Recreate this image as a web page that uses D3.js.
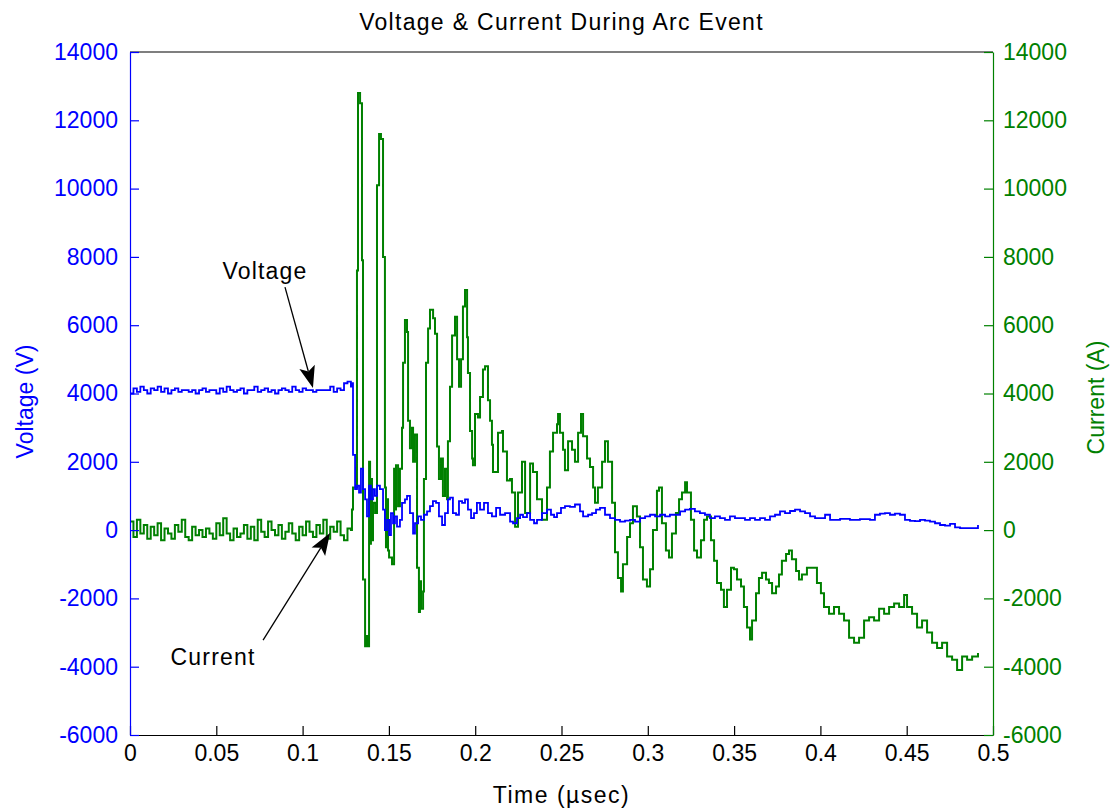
<!DOCTYPE html>
<html>
<head>
<meta charset="utf-8">
<script src="https://cdn.jsdelivr.net/npm/d3@7"></script>
<style>
  html, body { margin: 0; padding: 0; background: #fff; }
  svg text { font-family: "Liberation Sans", Arial, sans-serif; }
</style>
</head>
<body>
<svg id="chart" width="1113" height="810"></svg>
<script>
// ---------------- DATA ----------------
const chartTitle = "Voltage & Current During Arc Event";
const xLabel = "Time (\u00b5sec)";
const yLeftLabel = "Voltage (V)";
const yRightLabel = "Current (A)";
const xTicks = [0, 0.05, 0.1, 0.15, 0.2, 0.25, 0.3, 0.35, 0.4, 0.45, 0.5];
const yTicks = [-6000, -4000, -2000, 0, 2000, 4000, 6000, 8000, 10000, 12000, 14000];
const xDomain = [0, 0.5];
const yDomain = [-6000, 14000];

// Voltage trace [time (usec), volts]
const voltagePoints = [
  [0.000,4000],[0.002,4150],[0.004,4050],[0.006,4200],[0.008,4100],[0.010,4000],[0.012,4150],[0.014,4100],
  [0.016,4200],[0.018,4050],[0.020,4150],[0.022,4000],[0.024,4100],[0.026,4150],[0.028,4050],[0.030,4100],
  [0.032,4100],[0.034,4050],[0.036,4100],[0.038,4000],[0.040,4100],[0.042,4150],[0.044,4050],[0.046,4100],
  [0.048,4100],[0.050,4000],[0.052,4150],[0.054,4050],[0.056,4200],[0.058,4100],[0.060,4050],[0.062,4100],
  [0.064,4150],[0.066,4000],[0.068,4100],[0.070,4100],[0.072,4200],[0.074,4050],[0.076,4100],[0.078,4150],
  [0.080,4050],[0.082,4100],[0.084,4000],[0.086,4100],[0.088,4150],[0.090,4100],[0.092,4050],[0.094,4200],
  [0.096,4100],[0.098,4050],[0.100,4150],[0.102,4100],[0.104,4100],[0.106,4050],[0.108,4100],[0.110,4100],
  [0.112,4100],[0.114,4100],[0.116,4200],[0.118,4050],[0.120,4150],[0.122,4100],[0.124,4300],[0.126,4350],
  [0.1280,4200],[0.1286,4300],[0.1292,2200],[0.1304,1200],[0.1315,1300],[0.1327,1100],[0.1338,1800],
  [0.1350,1200],[0.1362,900],[0.1373,400],[0.1385,1300],[0.1396,900],[0.1408,1200],[0.1419,1000],
  [0.1431,1300],[0.1448,1200],[0.1466,600],[0.1477,0],[0.1489,300],[0.1501,-150],[0.1512,500],
  [0.1524,200],[0.1535,400],[0.1547,100],[0.1564,300],[0.1576,800],[0.1593,900],[0.1605,1000],
  [0.1622,500],[0.1640,-100],[0.1651,200],[0.1669,400],[0.1686,300],[0.1703,450],[0.1721,550],
  [0.1738,700],[0.1755,850],[0.1773,800],[0.1790,400],[0.1808,150],[0.1825,500],[0.1842,900],
  [0.1854,950],[0.1871,500],[0.1889,450],[0.1906,850],[0.1924,800],[0.1941,900],[0.1958,600],
  [0.1976,350],[0.1993,500],[0.2010,800],[0.2028,600],[0.2051,800],[0.2074,500],[0.2097,400],
  [0.2121,650],[0.2144,450],[0.2173,500],[0.2202,250],[0.2219,200],[0.2242,350],[0.2260,450],
  [0.2277,380],[0.2300,500],[0.2318,300],[0.2341,200],[0.2358,300],[0.2387,500],[0.2416,600],
  [0.2439,450],[0.2457,380],[0.2474,500],[0.2497,650],[0.2520,700],[0.2549,680],[0.2578,750],
  [0.2607,550],[0.2625,400],[0.2654,450],[0.2677,500],[0.2700,600],[0.2723,650],[0.2752,450],
  [0.2781,350],[0.2810,300],[0.2839,250],[0.2868,280],[0.2897,300],[0.2926,250],[0.2955,350],
  [0.2984,400],[0.3013,450],[0.3042,400],[0.3071,450],[0.3100,400],[0.3128,450],[0.3158,450],
  [0.3187,550],[0.3216,600],[0.3244,620],[0.3273,550],[0.3302,500],[0.3331,450],[0.3360,350],
  [0.3389,400],[0.3418,350],[0.3447,300],[0.3476,400],[0.3505,350],[0.3534,350],[0.3563,300],
  [0.3592,350],[0.3621,300],[0.3650,350],[0.3679,300],[0.3708,400],[0.3737,450],[0.3766,550],
  [0.3795,500],[0.3824,560],[0.3853,600],[0.3882,550],[0.3911,500],[0.3940,400],[0.3969,350],
  [0.3998,350],[0.4027,450],[0.4056,300],[0.4114,330],[0.4171,300],[0.4229,320],[0.4287,300],
  [0.4316,450],[0.4345,480],[0.4374,500],[0.4403,450],[0.4432,480],[0.4461,450],[0.4490,300],
  [0.4519,270],[0.4548,260],[0.4577,300],[0.4606,280],[0.4635,250],[0.4664,200],[0.4693,150],
  [0.4722,130],[0.4751,180],[0.4780,80],[0.4809,60],[0.4838,60],[0.4867,60],[0.4896,60],[0.4913,150]
];

// Current trace [time (usec), amps]
const currentPoints = [
  [0.000,250],[0.002,-200],[0.004,300],[0.006,-100],[0.008,150],[0.010,-250],[0.012,100],[0.014,-150],
  [0.016,200],[0.018,-300],[0.020,50],[0.022,-100],[0.024,-250],[0.026,150],[0.028,-50],[0.030,300],
  [0.032,-200],[0.034,-300],[0.036,100],[0.038,-150],[0.040,0],[0.042,-200],[0.044,50],[0.046,-100],
  [0.048,-250],[0.050,200],[0.052,-150],[0.054,350],[0.056,-100],[0.058,-300],[0.060,50],[0.062,-200],
  [0.064,-100],[0.066,150],[0.068,-250],[0.070,100],[0.072,-300],[0.074,300],[0.076,-50],[0.078,-200],
  [0.080,250],[0.082,0],[0.084,-150],[0.086,150],[0.088,-250],[0.090,-50],[0.092,200],[0.094,-100],
  [0.096,-300],[0.098,100],[0.100,-150],[0.102,250],[0.104,-50],[0.106,-200],[0.108,150],[0.110,-100],
  [0.112,300],[0.114,-250],[0.116,100],[0.118,-50],[0.120,250],[0.122,-150],[0.124,-300],[0.126,50],
  [0.1280,0],[0.1286,600],[0.1292,1250],[0.1315,7600],[0.1321,12800],[0.1333,12500],[0.1344,7900],
  [0.1350,-1450],[0.1362,-3400],[0.1373,-3100],[0.1379,-3400],[0.1385,2000],[0.1391,-400],[0.1396,1500],
  [0.1402,-300],[0.1408,800],[0.1420,500],[0.1431,10100],[0.1443,11600],[0.1454,11450],[0.1466,8000],
  [0.1477,1250],[0.1483,-500],[0.1489,900],[0.1495,-600],[0.1501,-800],[0.1506,-800],[0.1518,-1000],
  [0.1530,1800],[0.1535,600],[0.1541,1900],[0.1553,700],[0.1564,1800],[0.1576,3000],[0.1582,4900],
  [0.1593,6150],[0.1605,5800],[0.1611,3200],[0.1622,2400],[0.1634,3000],[0.1640,2000],[0.1651,2800],
  [0.1663,-1100],[0.1674,-2400],[0.1680,-1500],[0.1686,-2300],[0.1698,-1800],[0.1703,1500],[0.1715,4900],
  [0.1727,5900],[0.1738,6450],[0.1756,6200],[0.1767,5750],[0.1779,2450],[0.1790,1500],[0.1802,2100],
  [0.1813,1000],[0.1825,1800],[0.1837,900],[0.1842,2600],[0.1854,4200],[0.1866,5700],[0.1883,6250],
  [0.1895,5000],[0.1906,4200],[0.1918,5000],[0.1929,6550],[0.1941,7030],[0.1953,5650],[0.1958,4600],
  [0.1970,2900],[0.1982,2100],[0.1987,1900],[0.1999,3400],[0.2016,3300],[0.2028,3900],[0.2045,4700],
  [0.2057,4800],[0.2074,3800],[0.2086,3200],[0.2097,2500],[0.2103,1700],[0.2115,1700],[0.2132,2850],
  [0.2155,2900],[0.2161,2300],[0.2184,1450],[0.2202,1500],[0.2213,1100],[0.2231,100],[0.2248,1100],
  [0.2271,2000],[0.2289,500],[0.2318,1950],[0.2335,1700],[0.2358,900],[0.2387,300],[0.2416,1250],
  [0.2433,2300],[0.2451,2850],[0.2474,3100],[0.2480,3400],[0.2491,2850],[0.2509,2350],[0.2520,1750],
  [0.2538,2600],[0.2561,2350],[0.2578,2000],[0.2596,2850],[0.2613,3400],[0.2625,2750],[0.2648,2100],
  [0.2665,1850],[0.2683,1250],[0.2694,800],[0.2711,1250],[0.2735,2000],[0.2752,2600],[0.2769,2000],
  [0.2793,800],[0.2810,-650],[0.2827,-1400],[0.2845,-1800],[0.2856,-1000],[0.2880,-200],[0.2897,200],
  [0.2914,700],[0.2937,400],[0.2955,-500],[0.2972,-1450],[0.2995,-1650],[0.3013,-1150],[0.3030,0],
  [0.3053,1150],[0.3065,1250],[0.3082,200],[0.3105,-600],[0.3123,-800],[0.3140,-100],[0.3163,500],
  [0.3181,900],[0.3198,1100],[0.3216,1400],[0.3227,1100],[0.3250,300],[0.3268,-600],[0.3285,-800],
  [0.3308,-300],[0.3326,300],[0.3343,400],[0.3366,-300],[0.3384,-900],[0.3401,-1550],[0.3424,-1750],
  [0.3441,-2250],[0.3459,-1750],[0.3482,-1100],[0.3499,-1150],[0.3517,-1450],[0.3540,-1650],
  [0.3557,-2250],[0.3575,-2850],[0.3592,-3200],[0.3604,-2650],[0.3627,-1850],[0.3644,-1400],
  [0.3662,-1250],[0.3685,-1450],[0.3702,-1550],[0.3720,-1850],[0.3743,-1650],[0.3760,-1300],
  [0.3777,-900],[0.3801,-700],[0.3818,-600],[0.3835,-850],[0.3859,-1200],[0.3876,-1450],[0.3893,-1300],
  [0.3922,-1100],[0.3951,-1100],[0.3980,-1550],[0.4003,-1850],[0.4021,-2250],[0.4050,-2450],
  [0.4079,-2250],[0.4108,-2450],[0.4137,-2650],[0.4166,-3150],[0.4195,-3300],[0.4224,-3150],
  [0.4253,-2650],[0.4282,-2550],[0.4311,-2650],[0.4340,-2300],[0.4369,-2450],[0.4398,-2250],
  [0.4427,-2150],[0.4456,-2250],[0.4485,-1900],[0.4502,-2250],[0.4531,-2450],[0.4560,-2850],
  [0.4589,-2650],[0.4618,-3000],[0.4647,-3300],[0.4676,-3450],[0.4705,-3300],[0.4734,-3700],
  [0.4763,-3800],[0.4792,-4100],[0.4821,-3700],[0.4850,-3800],[0.4879,-3700],[0.4913,-3600]
];

// Annotation texts: [text x, text baseline y, arrow tail x, tail y, arrow head x, head y] in data units
const annotationLabels = ["Voltage", "Current"];
const annotationAnchors = [
  [0.0782, 7350, 0.0898, 7115, 0.1060, 4158],
  [0.0481, -3953, 0.0771, -3221, 0.1159, -88]
];

// ---------------- CHART ----------------
const W = 1113, H = 810;
const margin = {left: 130, right: 120, top: 52, bottom: 75};
const pw = W - margin.left - margin.right;
const ph = H - margin.top - margin.bottom;
const blue = "#0000ff", green = "#008000";
const fs = 23;

const svg = d3.select("#chart");
const g = svg.append("g").attr("transform", `translate(${margin.left},${margin.top})`);

const x = d3.scaleLinear().domain(xDomain).range([0, pw]);
const yL = d3.scaleLinear().domain(yDomain).range([ph, 0]);
const yR = d3.scaleLinear().domain(yDomain).range([ph, 0]);

g.append("defs").append("clipPath").attr("id", "clip")
  .append("rect").attr("x", 0).attr("y", 0).attr("width", pw).attr("height", ph);

// Data lines
const lineV = d3.line().x(d => x(d[0])).y(d => yL(d[1])).curve(d3.curveStepAfter);
const lineC = d3.line().x(d => x(d[0])).y(d => yR(d[1])).curve(d3.curveStepAfter);

const plot = g.append("g").attr("clip-path", "url(#clip)");
plot.append("path").datum(currentPoints).attr("d", lineC)
  .attr("fill", "none").attr("stroke", green).attr("stroke-width", 2);
plot.append("path").datum(voltagePoints).attr("d", lineV)
  .attr("fill", "none").attr("stroke", blue).attr("stroke-width", 1.8);

// Axes
function styleAxis(sel, color) {
  sel.selectAll("path.domain").attr("stroke", color).attr("stroke-width", 1.2);
  sel.selectAll(".tick line").attr("stroke", color).attr("stroke-width", 1.2);
  sel.selectAll(".tick text").attr("fill", color)
    .style("font-family", '"Liberation Sans", Arial, sans-serif').style("font-size", fs + "px");
}

const xAxis = g.append("g").attr("transform", `translate(0,${ph})`)
  .call(d3.axisBottom(x).tickValues(xTicks).tickFormat(d => String(d)).tickSizeInner(-9).tickSizeOuter(0).tickPadding(22));
styleAxis(xAxis, "#000");
xAxis.selectAll(".tick text").attr("dy", "0.71em").attr("y", 10);

// top border
g.append("line").attr("x1", 0).attr("x2", pw).attr("y1", 0).attr("y2", 0)
  .attr("stroke", "#000").attr("stroke-width", 1.2);

const yAxisL = g.append("g")
  .call(d3.axisLeft(yL).tickValues(yTicks).tickFormat(d => String(d)).tickSizeInner(-9).tickSizeOuter(0));
styleAxis(yAxisL, blue);
yAxisL.selectAll(".tick text").attr("x", -12);

const yAxisR = g.append("g").attr("transform", `translate(${pw},0)`)
  .call(d3.axisRight(yR).tickValues(yTicks).tickFormat(d => String(d)).tickSizeInner(-9).tickSizeOuter(0));
styleAxis(yAxisR, green);
yAxisR.selectAll(".tick text").attr("x", 10);

// Titles / labels
svg.append("text").attr("x", margin.left + pw / 2).attr("y", 30)
  .attr("text-anchor", "middle").attr("fill", "#000").style("font-size", fs + "px")
  .style("letter-spacing", "1.3px").text(chartTitle);

svg.append("text").attr("x", margin.left + pw / 2).attr("y", 803)
  .attr("text-anchor", "middle").attr("fill", "#000").style("font-size", fs + "px")
  .style("letter-spacing", "1.5px").text(xLabel);

svg.append("text").attr("transform", `translate(33,${margin.top + ph / 2 + 8}) rotate(-90)`)
  .attr("text-anchor", "middle").attr("fill", blue).style("font-size", fs + "px")
  .text(yLeftLabel);

svg.append("text").attr("transform", `translate(1104,${margin.top + ph / 2 + 4}) rotate(-90)`)
  .attr("text-anchor", "middle").attr("fill", green).style("font-size", fs + "px")
  .text(yRightLabel);

// Annotations with arrows
annotationAnchors.forEach((a, i) => {
  const tx = x(a[0]), ty = yL(a[1]);
  g.append("text").attr("x", tx).attr("y", ty).attr("text-anchor", "middle")
    .attr("fill", "#000").style("font-size", fs + "px").style("letter-spacing", "1.2px")
    .text(annotationLabels[i]);
  const x1 = x(a[2]), y1 = yL(a[3]), x2 = x(a[4]), y2 = yL(a[5]);
  const ang = Math.atan2(y2 - y1, x2 - x1);
  const L = 22, Wd = 8, notch = 8;
  const bx = x2 - L * Math.cos(ang), by = y2 - L * Math.sin(ang);
  const nx = x2 - (L - notch * 0.6) * Math.cos(ang), ny = y2 - (L - notch * 0.6) * Math.sin(ang);
  const px = -Math.sin(ang), py = Math.cos(ang);
  g.append("line").attr("x1", x1).attr("y1", y1).attr("x2", nx).attr("y2", ny)
    .attr("stroke", "#000").attr("stroke-width", 1.3);
  const pts = [[x2, y2], [bx + px * Wd, by + py * Wd], [nx, ny], [bx - px * Wd, by - py * Wd]];
  g.append("path").attr("d", "M" + pts.map(p => p.join(",")).join("L") + "Z").attr("fill", "#000");
});
</script>
</body>
</html>
